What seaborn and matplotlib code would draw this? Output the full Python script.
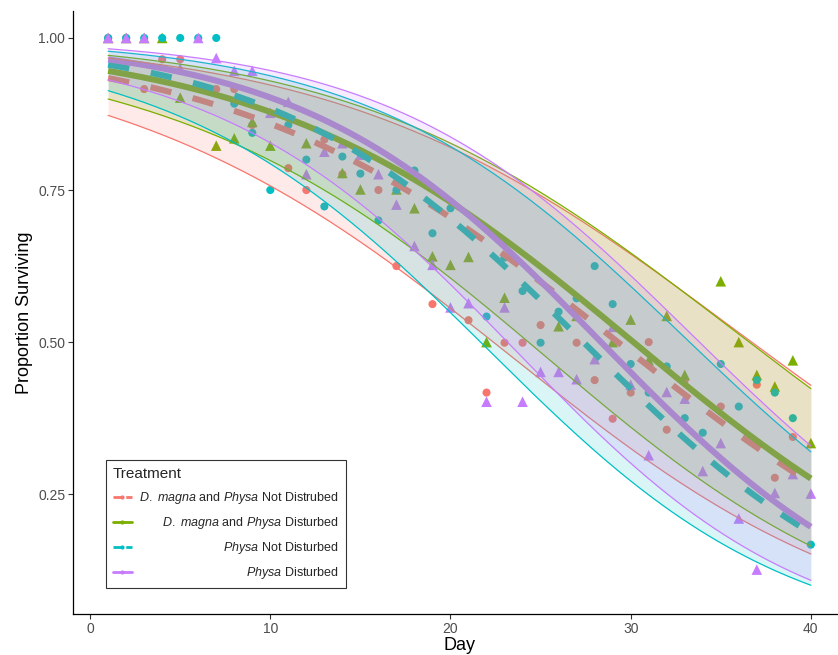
import numpy as np
import pandas as pd
import matplotlib
matplotlib.use("Agg")
import matplotlib.pyplot as plt
import seaborn as sns
from matplotlib.lines import Line2D

# ---------------- data ----------------
treatments = ["D. magna and Physa Not Distrubed", "D. magna and Physa Disturbed",
              "Physa Not Disturbed", "Physa Disturbed"]
legend_labels = [r"$\mathit{D.\ magna}$ and $\mathit{Physa}$ Not Distrubed",
                 r"$\mathit{D.\ magna}$ and $\mathit{Physa}$ Disturbed",
                 r"$\mathit{Physa}$ Not Disturbed",
                 r"$\mathit{Physa}$ Disturbed"]
colors = ["#F8766D", "#7CAE00", "#00BFC4", "#C77CFF"]
disturbed = [False, True, False, True]

red_days = [1, 2, 3, 4, 5, 7, 8, 9, 11, 12, 13, 14, 16, 17, 19, 21, 22, 23, 24, 25,
            27, 28, 29, 30, 31, 32, 33, 35, 37, 38, 39]
red_surv = [1.0, 1.0, 0.916, 0.965, 0.965, 0.916, 0.916, 0.857, 0.786, 0.75, 0.833, 0.776,
            0.75, 0.625, 0.5625, 0.536, 0.417, 0.499, 0.499, 0.528, 0.499, 0.4375, 0.374,
            0.417, 0.50, 0.356, 0.4375, 0.394, 0.43, 0.277, 0.344]

green_days = [1, 2, 3, 4, 5, 7, 8, 9, 10, 12, 14, 15, 17, 18, 19, 20, 21, 22, 23, 26,
              27, 29, 30, 31, 32, 33, 35, 36, 37, 38, 39, 40]
green_surv = [1.0, 1.0, 1.0, 1.0, 0.902, 0.823, 0.835, 0.862, 0.823, 0.827, 0.778, 0.751,
              0.751, 0.72, 0.641, 0.627, 0.64, 0.50, 0.573, 0.526, 0.543, 0.50, 0.537, 0.47,
              0.543, 0.446, 0.60, 0.50, 0.446, 0.427, 0.47, 0.334]

teal_days = [1, 2, 3, 4, 5, 6, 7, 8, 9, 10, 11, 12, 13, 14, 15, 16, 17, 18, 19, 20, 22,
             23, 24, 25, 26, 27, 28, 29, 30, 31, 32, 33, 34, 35, 36, 37, 38, 39, 40]
teal_surv = [1.0, 1.0, 1.0, 1.0, 1.0, 1.0, 1.0, 0.892, 0.844, 0.75, 0.857, 0.80, 0.723,
             0.805, 0.777, 0.70, 0.75, 0.782, 0.679, 0.72, 0.542, 0.639, 0.584, 0.499, 0.55,
             0.572, 0.625, 0.5625, 0.464, 0.417, 0.46, 0.375, 0.351, 0.464, 0.394, 0.4375,
             0.417, 0.375, 0.167]

purple_days = [1, 2, 3, 5, 6, 7, 8, 9, 10, 11, 12, 13, 14, 15, 16, 17, 18, 19, 20, 21,
               22, 23, 24, 25, 26, 27, 28, 29, 30, 31, 32, 33, 34, 35, 36, 37, 38, 39, 40]
purple_surv = [1.0, 1.0, 1.0, 0.95, 1.0, 0.967, 0.946, 0.946, 0.877, 0.895, 0.776, 0.813,
               0.827, 0.808, 0.776, 0.726, 0.658, 0.627, 0.557, 0.564, 0.402, 0.557, 0.402,
               0.451, 0.451, 0.439, 0.472, 0.525, 0.43, 0.314, 0.418, 0.407, 0.288, 0.334,
               0.21, 0.126, 0.252, 0.283, 0.251]

# fitted binomial GLM (logit scale), estimated from the drawn curves
fit_intercept = [2.744, 2.958, 3.197, 3.431]
fit_slope = [-0.0937, -0.0981, -0.1168, -0.121]
se_mid = [0.33, 0.29, 0.34, 0.32]
se_end = [0.37, 0.34, 0.37, 0.36]

all_days = [red_days, green_days, teal_days, purple_days]
all_surv = [red_surv, green_surv, teal_surv, purple_surv]

# ---------------- tables ----------------
pts = pd.concat([pd.DataFrame({"Day": d, "Surv": s, "Treatment": t,
                               "Disturbed": "Disturbed" if dist else "Not"})
                 for d, s, t, dist in zip(all_days, all_surv, treatments, disturbed)],
                ignore_index=True)


def inv_logit(z):
    return 1 / (1 + np.exp(-z))


grid = np.linspace(1, 40, 300)
fits = []
for t, b0, b1, sm, se in zip(treatments, fit_intercept, fit_slope, se_mid, se_end):
    eta = b0 + b1 * grid
    sd = np.sqrt(sm ** 2 + (se ** 2 - sm ** 2) * ((grid - 21) / 20) ** 2)
    fits.append(pd.DataFrame({"Day": grid, "fit": inv_logit(eta),
                              "lo": inv_logit(eta - 1.96 * sd),
                              "hi": inv_logit(eta + 1.96 * sd), "Treatment": t}))
fitdf = pd.concat(fits, ignore_index=True)

# ---------------- plot ----------------
sns.set_theme(style="white")
plt.rcParams["font.family"] = ["Liberation Sans", "DejaVu Sans"]
plt.rcParams["mathtext.fontset"] = "custom"
plt.rcParams["mathtext.it"] = "Liberation Sans:italic"
plt.rcParams["mathtext.rm"] = "Liberation Sans"

fig = plt.figure(figsize=(8.38, 6.55), dpi=100)
ax = fig.add_axes([73 / 838, 41 / 655, 773 / 838, 603.4 / 655])

pal = dict(zip(treatments, colors))
sns.scatterplot(data=pts, x="Day", y="Surv", hue="Treatment", style="Disturbed",
                markers={"Disturbed": "^", "Not": "o"}, palette=pal,
                size="Disturbed", sizes={"Disturbed": 58, "Not": 34},
                linewidth=0, legend=False, ax=ax, zorder=1)

dash_map = {treatments[0]: (3.5, 3.6), treatments[1]: "",
            treatments[2]: (3.5, 3.6), treatments[3]: ""}
sns.lineplot(data=fitdf, x="Day", y="fit", hue="Treatment", style="Treatment",
             palette=pal, dashes=dash_map, linewidth=4.4, estimator=None,
             legend=False, ax=ax, zorder=2)
for ln in ax.get_lines():
    ln.set_dash_capstyle("butt")
    ln.set_solid_capstyle("butt")

for i, (t, c) in enumerate(zip(treatments, colors)):
    sub = fitdf[fitdf.Treatment == t]
    ax.fill_between(sub.Day, sub.lo, sub.hi, color=c, alpha=0.15, linewidth=0,
                    zorder=3 + 2 * i)
    ax.plot(sub.Day, sub.lo, color=c, lw=0.9, zorder=4 + 2 * i)
    ax.plot(sub.Day, sub.hi, color=c, lw=0.9, zorder=4 + 2 * i)

ax.set_xlim(-0.95, 41.95)
ax.set_ylim(0.053, 1.045)
ax.set_xticks([0, 10, 20, 30, 40])
ax.set_yticks([0.25, 0.50, 0.75, 1.00])
ax.set_yticklabels(["0.25", "0.50", "0.75", "1.00"])
for s in ["top", "right"]:
    ax.spines[s].set_visible(False)
for s in ["left", "bottom"]:
    ax.spines[s].set_color("black")
    ax.spines[s].set_linewidth(0.9)
ax.tick_params(axis="both", which="major", length=3.5, width=0.8, color="#333333",
               labelsize=10, labelcolor="#4D4D4D", pad=2, bottom=True, left=True)
ax.set_xlabel("Day", fontsize=13, color="black", labelpad=1)
ax.set_ylabel("Proportion Surviving", fontsize=13, color="black", labelpad=4)

handles = []
for c, dist in zip(colors, disturbed):
    ls = "-" if dist else (0, (3, 1.6))
    handles.append(Line2D([], [], color=c, lw=2, linestyle=ls, marker="o",
                          markersize=3, markeredgewidth=0))
leg = ax.legend(handles, legend_labels, title="Treatment", loc="lower left",
                bbox_to_anchor=(0.043, 0.043), borderaxespad=0, frameon=True,
                fontsize=9.0, title_fontsize=11, handlelength=1.5, handletextpad=0.6,
                labelspacing=0.72, borderpad=0.55, fancybox=False)
leg.get_frame().set_edgecolor("black")
leg.get_frame().set_linewidth(0.8)
leg._legend_box.align = "left"
leg.set_zorder(20)

# right-align the label texts while keeping the keys in one column
fig.canvas.draw()
renderer = fig.canvas.get_renderer()
widths = [t.get_window_extent(renderer).width * 72 / fig.dpi for t in leg.get_texts()]
wmax = max(widths)
try:
    rows = leg._legend_box.get_children()[1].get_children()[0].get_children()
    for row, w in zip(rows, widths):
        row.sep = row.sep + (wmax - w)
except Exception:
    pass

fig.savefig("out.png", dpi=100)
